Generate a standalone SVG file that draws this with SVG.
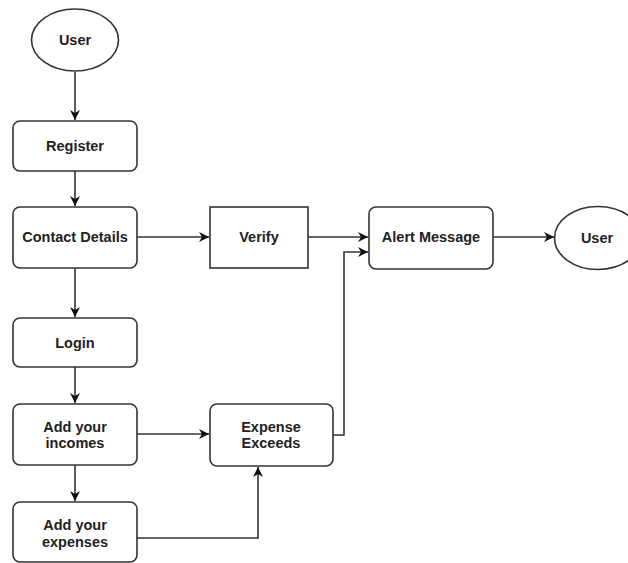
<svg xmlns="http://www.w3.org/2000/svg" width="628" height="563" viewBox="0 0 628 563">
<defs>
<marker id="arr" viewBox="0 0 10 10" refX="10" refY="5" markerWidth="10" markerHeight="10" markerUnits="userSpaceOnUse" orient="auto">
<path d="M0,0 L10,5 L0,10 L3,5 Z" fill="#111"/>
</marker>
</defs>
<style>
.box{fill:#fff;stroke:#333;stroke-width:1.6}
.lbl{font-family:"Liberation Sans",Arial,sans-serif;font-weight:bold;font-size:14.5px;fill:#222;text-anchor:middle;dominant-baseline:central}
.con{fill:none;stroke:#333;stroke-width:1.6;marker-end:url(#arr)}
</style>
<rect width="628" height="563" fill="#fff"/>
<g id="connectors">
<path class="con" d="M75,72 L75,120"/>
<path class="con" d="M75,171 L75,206"/>
<path class="con" d="M75,268 L75,317"/>
<path class="con" d="M75,367 L75,403"/>
<path class="con" d="M75,465 L75,501"/>
<path class="con" d="M137,237 L209,237"/>
<path class="con" d="M308,237 L368,237"/>
<path class="con" d="M493,237 L554,237"/>
<path class="con" d="M137,434 L209,434"/>
<path class="con" d="M137,538 L258,538 L258,467"/>
<path class="con" d="M333,435 L344,435 L344,252 L368,252"/>
</g>
<g id="user1">
<ellipse class="box" cx="75" cy="40" rx="43.5" ry="31"/>
<text class="lbl" x="75" y="40">User</text>
</g>
<g id="register">
<rect class="box" x="13" y="121" width="124" height="50" rx="7"/>
<text class="lbl" x="75" y="146">Register</text>
</g>
<g id="contact">
<rect class="box" x="13" y="207" width="124" height="61" rx="7"/>
<text class="lbl" x="75" y="237">Contact Details</text>
</g>
<g id="verify">
<rect class="box" x="210" y="207" width="98" height="61"/>
<text class="lbl" x="259" y="237">Verify</text>
</g>
<g id="alert">
<rect class="box" x="369" y="207" width="124" height="62" rx="7"/>
<text class="lbl" x="431" y="237">Alert Message</text>
</g>
<g id="user2">
<ellipse class="box" cx="598" cy="238" rx="43.5" ry="31.5"/>
<text class="lbl" x="597" y="238">User</text>
</g>
<g id="login">
<rect class="box" x="13" y="318" width="124" height="49" rx="7"/>
<text class="lbl" x="75" y="343">Login</text>
</g>
<g id="incomes">
<rect class="box" x="13" y="404" width="124" height="61" rx="7"/>
<text class="lbl" x="75" y="427">Add your</text>
<text class="lbl" x="75" y="443">incomes</text>
</g>
<g id="exceeds">
<rect class="box" x="210" y="404" width="123" height="62" rx="7"/>
<text class="lbl" x="271" y="427">Expense</text>
<text class="lbl" x="271" y="443">Exceeds</text>
</g>
<g id="expenses">
<rect class="box" x="13" y="502" width="124" height="60" rx="7"/>
<text class="lbl" x="75" y="525">Add your</text>
<text class="lbl" x="75" y="542">expenses</text>
</g>
</svg>
